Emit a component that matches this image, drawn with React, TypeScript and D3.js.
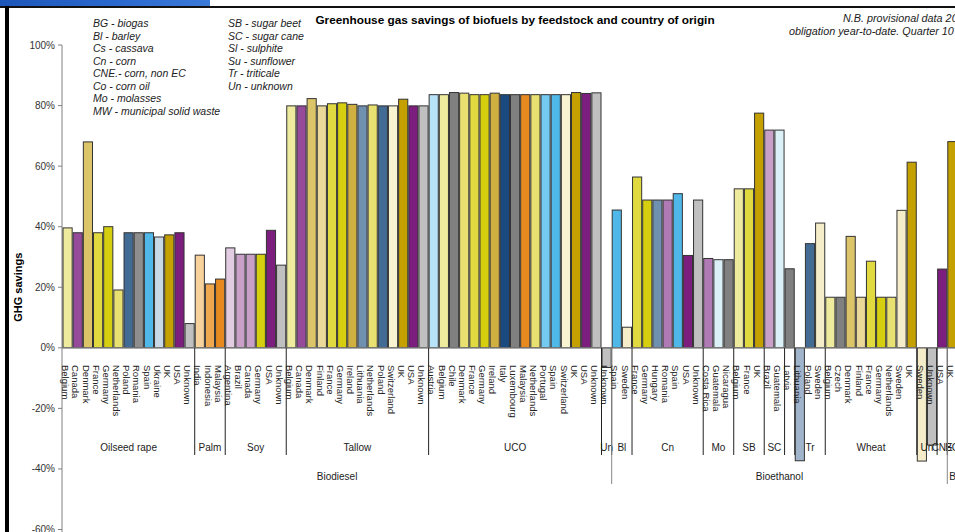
import React from 'react';
import * as d3 from 'd3';

// ---------- data ----------
const countries: string[] = [
  // Biodiesel - Oilseed rape
  'Belgium','Canada','Denmark','France','Germany','Netherlands','Poland','Romania','Spain','Ukraine','UK','USA','Unknown',
  // Palm
  'India','Indonesia','Malaysia',
  // Soy
  'Argentina','Brazil','Canada','Germany','USA','Unknown',
  // Tallow
  'Belgium','Canada','Denmark','Finland','France','Germany','Ireland','Lithuania','Netherlands','Poland','Switzerland','UK','USA','Unknown',
  // UCO
  'Austria','Belgium','Chile','Denmark','France','Germany','Ireland','Italy','Luxembourg','Malaysia','Netherlands','Portugal','Spain','Switzerland','UK','USA','Unknown',
  // Un
  'Unknown',
  // Bioethanol - Bl
  'Spain','Sweden',
  // Cn
  'France','Germany','Hungary','Romania','Spain','USA','Unknown',
  // Mo
  'Costa Rica','Guatemala','Nicaragua',
  // SB
  'Belgium','France','UK',
  // SC
  'Brazil','Guatemala',
  // Sl
  'Latvia',
  // Tr
  'Lithuania','Poland','Sweden',
  // Wheat
  'Belgium','Czech','Denmark','Finland','France','Germany','Netherlands','Sweden','UK',
  // Un
  'Sweden','Unknown',
  // CNE
  'USA',
  // last group
  'UK',
];

// GHG savings, %
const savings: number[] = [
  39.6, 38.0, 68.0, 38.0, 40.0, 19.1, 38.0, 38.0, 38.0, 36.6, 37.3, 38.0, 8.0,
  30.6, 21.1, 22.7,
  33.0, 30.9, 30.9, 30.9, 38.8, 27.3,
  79.9, 79.9, 82.3, 79.9, 80.6, 80.9, 80.4, 79.9, 80.2, 79.9, 79.9, 82.1, 79.9, 79.9,
  83.6, 83.6, 84.3, 84.1, 83.6, 83.6, 84.1, 83.6, 83.6, 83.6, 83.6, 83.6, 83.6, 83.6, 84.3, 84.0, 84.2,
  -6.5,
  45.5, 6.8,
  56.4, 48.8, 48.8, 48.8, 50.9, 30.5, 48.8,
  29.5, 29.1, 29.1,
  52.5, 52.5, 77.5,
  71.9, 71.9,
  26.1,
  -37.3, 34.4, 41.2,
  16.7, 16.7, 36.8, 16.7, 28.6, 16.7, 16.7, 45.4, 61.3,
  -37.4, -32.1,
  26.0,
  68.1,
];

// feedstock groups (level 1) - label shown, number of bars
const feedstockLabels: string[] = ['Oilseed rape','Palm','Soy','Tallow','UCO','Un','Bl','Cn','Mo','SB','SC','' /* Sl, label hidden */,'Tr','Wheat','Un','CNE','BG'];
const feedstockSizes: number[] = [13, 3, 6, 14, 17, 1, 2, 7, 3, 3, 2, 1, 3, 9, 2, 1, 1];

// fuel groups (level 2) - number of feedstock groups
const fuelLabels: string[] = ['Biodiesel', 'Bioethanol', 'Biogas'];
const fuelSizes: number[] = [6, 10, 1];

const yTicks: number[] = [-60, -40, -20, 0, 20, 40, 60, 80, 100];

const legendCol1: string[] = [
  'BG - biogas', 'Bl - barley', 'Cs - cassava', 'Cn - corn', 'CNE.- corn, non EC',
  'Co - corn oil', 'Mo - molasses', 'MW - municipal solid waste',
];
const legendCol2: string[] = [
  'SB - sugar beet', 'SC - sugar cane', 'Sl - sulphite', 'Su - sunflower', 'Tr - triticale', 'Un - unknown',
];

const titleText = 'Greenhouse gas savings of biofuels by feedstock and country of origin';
const noteLines: string[] = ['N.B. provisional data 2010/11', 'obligation year-to-date. Quarter 10'];

// ---------- styles ----------
const C = {
  belgium: '#EEEA9E', canada: '#954A9A', denmark: '#DCC468', france: '#E0D940', germany: '#D6CF10',
  nl: '#E8E070', poland: '#436C94', grayMid: '#8E8E8E', spain: '#50B8E8', ukraine: '#C8D8E6',
  uk: '#C4A000', usa: '#7B1E7D', unknown: '#C0C0C0', india: '#F8D29C', indonesia: '#F0A850',
  malaysia: '#E6891E', argentina: '#E2CCE2', mauve: '#C8A0C8', finland: '#EAD898', ireland: '#CFB040',
  slate: '#7090B0', swiss: '#F8F4D2', austria: '#B8E2F8', gray: '#808080', italy: '#1A4A80',
  portugal: '#74CAF0', sweden: '#F5EDCA', romania2: '#B07AB5', guatemala: '#DCF0F8', lithuania2: '#A0B4CC',
};
const barColors: string[] = [
  C.belgium, C.canada, C.denmark, C.france, C.germany, C.nl, C.poland, C.grayMid, C.spain, C.ukraine, C.uk, C.usa, C.unknown,
  C.india, C.indonesia, C.malaysia,
  C.argentina, C.mauve, C.mauve, C.germany, C.usa, C.unknown,
  C.belgium, C.canada, C.denmark, C.finland, C.france, C.germany, C.ireland, C.slate, C.nl, C.poland, C.swiss, C.uk, C.usa, C.unknown,
  C.austria, C.belgium, C.gray, C.nl, C.france, C.germany, C.ireland, C.italy, C.gray, C.malaysia, C.nl, C.portugal, C.spain, C.swiss, C.uk, C.usa, C.unknown,
  C.unknown,
  C.spain, C.sweden,
  C.france, C.germany, C.slate, C.romania2, C.spain, C.usa, C.unknown,
  C.romania2, C.guatemala, C.gray,
  C.belgium, C.france, C.uk,
  C.mauve, C.guatemala,
  C.gray,
  C.lithuania2, C.poland, C.sweden,
  C.belgium, C.gray, C.denmark, C.finland, C.france, C.germany, C.nl, C.sweden, C.uk,
  C.sweden, C.unknown,
  C.usa,
  C.uk,
];

const W = 955;
const H = 532;
const FONT = '"Liberation Sans", Arial, sans-serif';

export default function App() {
  const N = countries.length;
  const pitch = 10.17;
  const x0 = 62.5;
  const x = d3
    .scaleBand<number>()
    .domain(d3.range(N))
    .range([x0, x0 + N * pitch])
    .paddingInner(0.1)
    .paddingOuter(0.05);
  const y = d3.scaleLinear().domain([-60, 100]).range([529.5, 45]);
  const bw = x.bandwidth();
  const edge = (i: number) => x.range()[0] + i * x.step();
  const zeroY = y(0);

  // level-1 group boundaries
  const fStarts: number[] = [];
  let acc = 0;
  feedstockSizes.forEach((s) => {
    fStarts.push(acc);
    acc += s;
  });
  // level-2 group boundaries (in bar indices)
  const fuelStarts: number[] = [];
  const fuelEnds: number[] = [];
  let g = 0;
  fuelSizes.forEach((s) => {
    const startBar = fStarts[g];
    const endG = g + s - 1;
    const endBar = fStarts[endG] + feedstockSizes[endG];
    fuelStarts.push(startBar);
    fuelEnds.push(endBar);
    g += s;
  });

  const fmt = (v: number) => `${v}%`;

  return (
    <svg
      width={W}
      height={H}
      style={{ position: 'absolute', left: 0, top: 0, background: '#fff' }}
      fontFamily={FONT}
    >
      <defs>
        <linearGradient id="titlebar" x1="0" x2="1" y1="0" y2="0">
          <stop offset="0" stopColor="#1d56b8" />
          <stop offset="0.6" stopColor="#2c6ad0" />
          <stop offset="1" stopColor="#3b7ad8" />
        </linearGradient>
      </defs>
      <rect x={0} y={0} width={W} height={H} fill="#fff" />
      {/* window chrome */}
      <rect x={0} y={0} width={210} height={6} fill="url(#titlebar)" />
      <rect x={0} y={6} width={W} height={2} fill="#111" />
      <rect x={5} y={6} width={4} height={H - 6} fill="#000" />

      {/* title */}
      <text x={515} y={24} textAnchor="middle" fontSize={11.8} fontWeight="bold" fill="#000">
        {titleText}
      </text>
      {noteLines.map((t, i) => (
        <text key={t} x={i === 0 ? 843 : 789} y={22 + i * 13} fontSize={10.8} fontStyle="italic" fill="#222">
          {t}
        </text>
      ))}

      {/* legend */}
      {legendCol1.map((t, i) => (
        <text key={t} x={93} y={27 + i * 12.57} fontSize={10.5} fontStyle="italic" fill="#222">
          {t}
        </text>
      ))}
      {legendCol2.map((t, i) => (
        <text key={t} x={228} y={27 + i * 12.57} fontSize={10.5} fontStyle="italic" fill="#222">
          {t}
        </text>
      ))}

      {/* y axis */}
      <line x1={62} x2={62} y1={y(100)} y2={H} stroke="#808080" />
      {yTicks.map((t) => (
        <g key={t} transform={`translate(0,${y(t)})`}>
          <line x1={58} x2={62} stroke="#808080" />
          <text x={55} dy="0.35em" textAnchor="end" fontSize={10} fill="#333">
            {fmt(t)}
          </text>
        </g>
      ))}
      <text
        transform={`translate(22,${(y(100) + y(-60)) / 2}) rotate(-90)`}
        textAnchor="middle"
        fontSize={11}
        fontWeight="bold"
        fill="#000"
      >
        GHG savings
      </text>

      {/* bars */}
      {savings.map((v, i) => (
        <rect
          key={i}
          x={x(i)}
          y={Math.min(y(v), zeroY)}
          width={bw}
          height={Math.abs(y(v) - zeroY)}
          fill={barColors[i]}
          stroke="#333"
          strokeWidth={1}
        />
      ))}

      {/* category axis line */}
      <line x1={62} x2={W} y1={zeroY} y2={zeroY} stroke="#808080" />

      {/* level-1 separators and labels */}
      {fStarts.map((s, gi) =>
        gi === 0 ? null : (
          <line key={`fs${gi}`} x1={edge(s)} x2={edge(s)} y1={zeroY} y2={455} stroke="#222" strokeWidth={1} />
        )
      )}
      {feedstockLabels.map((lab, gi) => {
        const s = fStarts[gi];
        const e = s + feedstockSizes[gi];
        return (
          <text key={`fl${gi}`} x={(edge(s) + edge(e)) / 2} y={451} textAnchor="middle" fontSize={10} fill="#222">
            {lab}
          </text>
        );
      })}

      {/* level-2 separators and labels */}
      {fuelStarts.map((s, i) =>
        i === 0 ? null : (
          <line key={`us${i}`} x1={edge(s)} x2={edge(s)} y1={zeroY} y2={484} stroke="#888" strokeWidth={1} />
        )
      )}
      {fuelLabels.map((lab, i) => {
        const s = fuelStarts[i];
        const e = fuelEnds[i];
        const narrow = e - s < 3;
        return (
          <text
            key={`ul${i}`}
            x={narrow ? edge(s) + 2 : (edge(s) + edge(e)) / 2}
            y={480}
            textAnchor={narrow ? 'start' : 'middle'}
            fontSize={10}
            fill="#222"
          >
            {lab}
          </text>
        );
      })}

      {/* category labels */}
      {countries.map((c, i) => (
        <text
          key={`c${i}`}
          transform={`translate(${(x(i) ?? 0) + bw / 2 - 2},365) rotate(90)`}
          dy="0.35em"
          fontSize={9.5}
          fill="#222"
        >
          {c}
        </text>
      ))}
    </svg>
  );
}
